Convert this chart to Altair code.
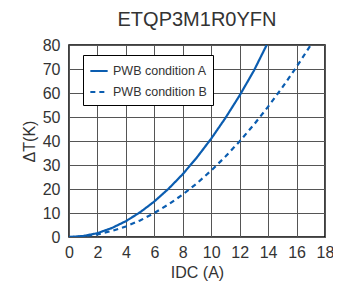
import altair as alt
import pandas as pd

current_a = [0, 1, 2, 3, 4, 5, 6, 7, 8, 9, 10, 11, 12, 13, 13.9]
temp_a = [0, 0.4, 1.6, 3.7, 6.6, 10.3, 14.8, 20.1, 26.2, 33.2, 41, 49.6, 59, 69.3, 80]
current_b = [0, 1, 2, 3, 4, 5, 6, 7, 8, 9, 10, 11, 12, 13, 14, 15, 16, 17]
temp_b = [0, 0.3, 1.1, 2.5, 4.4, 6.9, 10, 13.6, 17.7, 22.4, 27.7, 33.5, 39.9, 46.8, 54.3, 62.3, 70.9, 80]
series = ["PWB condition A", "PWB condition B"]

df = pd.concat([
    pd.DataFrame({"I": current_a, "T": temp_a, "s": series[0]}),
    pd.DataFrame({"I": current_b, "T": temp_b, "s": series[1]}),
])

font = "Liberation Sans"
blue = "#0b5db0"

chart = alt.Chart(df).mark_line(strokeWidth=2.2, clip=True).encode(
    x=alt.X("I:Q", scale=alt.Scale(domain=[0, 18], nice=False),
            axis=alt.Axis(values=list(range(0, 19, 2)), title="IDC (A)", titlePadding=4,
                          labelPadding=7, labelFlush=False, labelOverlap=False)),
    y=alt.Y("T:Q", scale=alt.Scale(domain=[0, 80], nice=False),
            axis=alt.Axis(values=list(range(0, 81, 10)), title="ΔT(K)", titlePadding=5,
                          labelPadding=9, labelFlush=False, labelOverlap=False)),
    color=alt.Color("s:N", scale=alt.Scale(domain=series, range=[blue, blue]),
                    legend=alt.Legend(title=None, orient="none", legendX=14, legendY=10,
                                      symbolType="stroke", symbolStrokeWidth=2.2, symbolSize=300,
                                      labelFont=font, labelFontSize=12.5, labelColor="#333",
                                      fillColor="white", strokeColor="black", padding=6,
                                      rowPadding=4, labelLimit=200, cornerRadius=0)),
    strokeDash=alt.StrokeDash("s:N", scale=alt.Scale(domain=series, range=[[1, 0], [5, 4]]),
                              legend=None),
).properties(
    width=256, height=192,
    title=alt.TitleParams("ETQP3M1R0YFN", font=font, fontSize=20, fontWeight="normal",
                          color="#333", offset=7),
    padding={"left": 61, "top": 37, "right": 8, "bottom": 46},
    autosize=alt.AutoSizeParams(type="none"),
).configure_axis(
    labelFont=font, labelFontSize=16, labelColor="#333",
    titleFont=font, titleFontSize=16, titleColor="#333", titleFontWeight="normal",
    grid=True, gridColor="#555", gridWidth=1, gridOpacity=1,
    domain=False, ticks=False,
).configure_view(stroke="black", strokeWidth=1.5)

chart.save("out.html", embed_options={"renderer": "svg", "actions": False})
